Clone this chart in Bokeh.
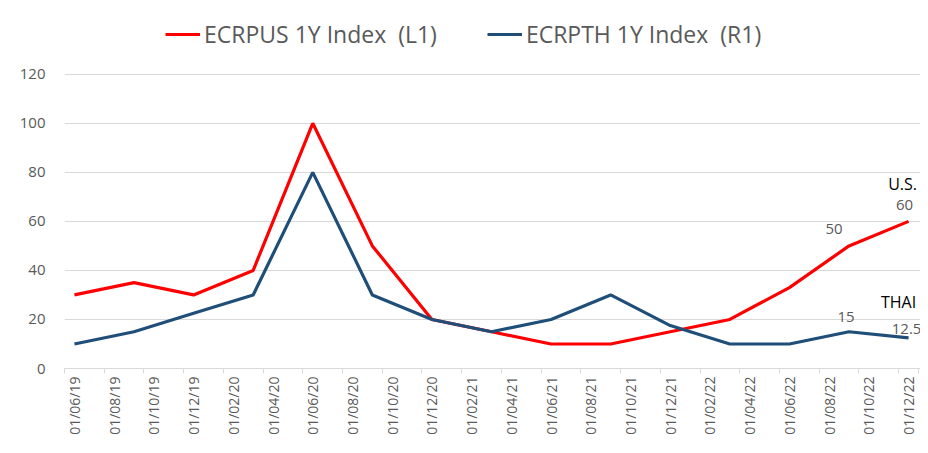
import math
from bokeh.plotting import figure
from bokeh.models import (Range1d, FixedTicker, Legend, LegendItem, LabelSet,
                          ColumnDataSource)
from bokeh.core.properties import value
from bokeh.embed import file_html
from bokeh.resources import INLINE

# ---- data ----
months = [0, 3, 6, 9, 12, 15, 18, 21, 24, 27, 30, 33, 36, 39, 42]  # months since Jun 2019
us_values = [30, 35, 30, 40, 100, 50, 20, 15, 10, 10, 15, 20, 33, 50, 60]
th_values = [10, 15, 22.5, 30, 80, 30, 20, 15, 20, 30, 17.5, 10, 10, 15, 12.5]
tick_months = list(range(0, 43, 2))
tick_labels = ["01/06/19", "01/08/19", "01/10/19", "01/12/19", "01/02/20", "01/04/20",
               "01/06/20", "01/08/20", "01/10/20", "01/12/20", "01/02/21", "01/04/21",
               "01/06/21", "01/08/21", "01/10/21", "01/12/21", "01/02/22", "01/04/22",
               "01/06/22", "01/08/22", "01/10/22", "01/12/22"]
y_ticks = [0, 20, 40, 60, 80, 100, 120]
us_name = "ECRPUS 1Y Index  (L1)"
th_name = "ECRPTH 1Y Index  (R1)"

RED = "#FF0000"
BLUE = "#1F4E79"
GREY = "#595959"
GRID = "#D9D9D9"
FONT = "Open Sans"

# y range extends above 120 to leave room for the legend inside the frame
p = figure(width=920, height=437, output_backend="svg", toolbar_location=None,
           x_range=Range1d(-0.5, 42.6), y_range=Range1d(0, 146),
           min_border_left=64, min_border_right=0, min_border_top=10,
           min_border_bottom=65)
p.outline_line_color = None
p.background_fill_color = "white"
p.border_fill_color = "white"

r_us = p.line(months, us_values, line_color=RED, line_width=3.2)
r_th = p.line(months, th_values, line_color=BLUE, line_width=3.2)

# x axis
xa = p.xaxis[0]
xa.ticker = FixedTicker(ticks=tick_months, minor_ticks=[m - 0.5 for m in tick_months] + [42.5])
xa.major_label_overrides = {m: lab for m, lab in zip(tick_months, tick_labels)}
xa.major_label_orientation = math.pi / 2
xa.major_tick_line_color = None
xa.major_tick_out = 4
xa.major_tick_in = 0
xa.minor_tick_line_color = GRID
xa.minor_tick_out = 5
xa.minor_tick_in = 0
xa.axis_line_color = GRID
xa.axis_line_width = 1
xa.major_label_standoff = 3
xa.major_label_text_font = FONT
xa.major_label_text_font_size = "14px"
xa.major_label_text_color = GREY

# y axis
ya = p.yaxis[0]
ya.ticker = FixedTicker(ticks=y_ticks)
ya.axis_line_color = None
ya.major_tick_line_color = None
ya.minor_tick_line_color = None
ya.major_tick_out = 0
ya.major_label_standoff = 19
ya.major_label_text_font = FONT
ya.major_label_text_font_size = "15px"
ya.major_label_text_color = GREY

p.xgrid.grid_line_color = None
p.ygrid.grid_line_color = GRID
p.ygrid.grid_line_width = 1

# legend (top of the frame)
legend = Legend(items=[LegendItem(label=us_name, renderers=[r_us]),
                       LegendItem(label=th_name, renderers=[r_th])],
                orientation="horizontal", location=(101, 318),
                glyph_width=35, glyph_height=20, label_standoff=4, spacing=50,
                padding=0, margin=0, border_line_color=None,
                background_fill_alpha=0,
                label_text_font=FONT, label_text_font_size="23px",
                label_text_color=GREY)
p.add_layout(legend, "center")

# data labels
val_src = ColumnDataSource(dict(
    x=[months[13], months[14], months[13], months[14]],
    y=[us_values[13], us_values[14], th_values[13], th_values[14]],
    text=[str(us_values[13]), str(us_values[14]), str(th_values[13]), str(th_values[14])],
    xo=[-15, -4, -3, -2],
    yo=[17, 16, 15, 9],
))
p.add_layout(LabelSet(x="x", y="y", text="text", source=val_src,
                      x_offset="xo", y_offset="yo", text_align="center",
                      text_baseline="middle", text_font=value(FONT),
                      text_font_size="15px", text_color=GREY))

name_src = ColumnDataSource(dict(
    x=[months[14], months[14]],
    y=[us_values[14], th_values[14]],
    text=["U.S.", "THAI"],
    xo=[-6, -10],
    yo=[37, 36],
))
p.add_layout(LabelSet(x="x", y="y", text="text", source=name_src,
                      x_offset="xo", y_offset="yo", text_align="center",
                      text_baseline="middle", text_font=value(FONT),
                      text_font_size="16px", text_color="black"))

open("out.html", "w").write(file_html(p, INLINE))
